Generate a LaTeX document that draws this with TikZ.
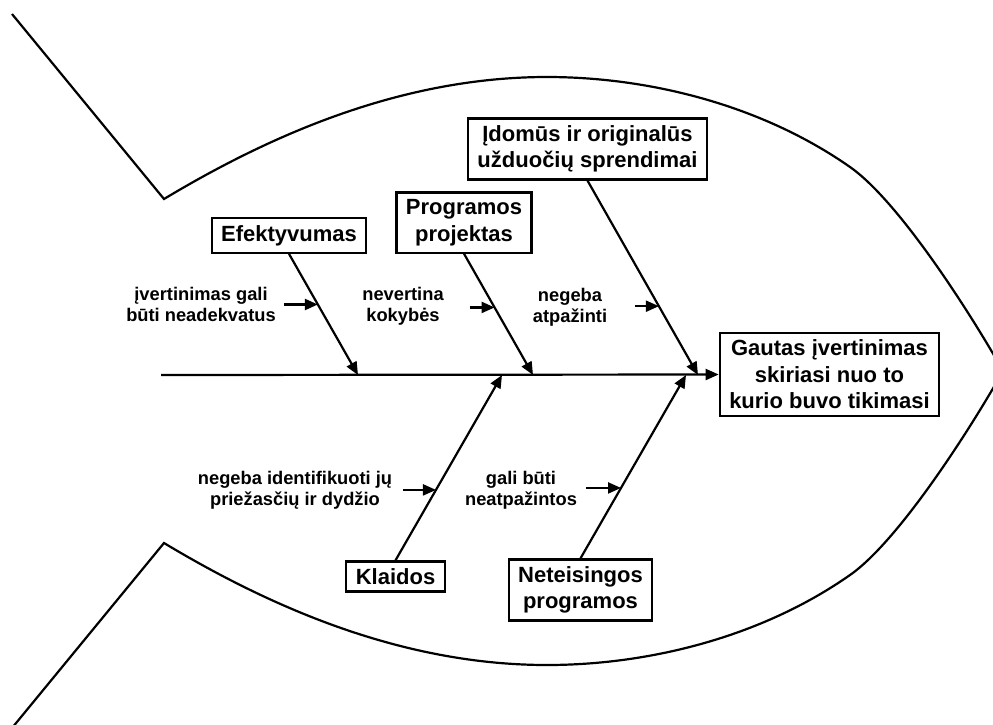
\documentclass[tikz,border=0pt]{standalone}
\usepackage{fontspec}
\setmainfont{Liberation Sans}
\usetikzlibrary{arrows.meta,calc}

\begin{document}
\begin{tikzpicture}[x=1pt,y=-1pt,
  line width=2.2pt,
  tip/.style={-{Triangle[length=13pt,width=11pt]}},
  cause/.style={draw, line width=2.2pt, align=center, inner xsep=9.5pt, inner ysep=7pt,
                font=\fontsize{22}{26.5}\selectfont\bfseries},
  note/.style={align=center, inner sep=0pt, font=\fontsize{18.3}{21}\selectfont\bfseries},
  outline/.style={line width=2.2pt, line join=miter}
]
\useasboundingbox (0,0) rectangle (993,724);

% fish outline: tail fins and body
\begin{scope}
\clip (0,0) rectangle (993,724);
\draw[outline] (12,14) -- (164,199)
  .. controls (264,139) and (397,77) .. (547,77)
  .. controls (647,77) and (760,104) .. (850,167)
  .. controls (900,202) and (973,317.5) .. (1003,371);
\draw[outline] (12,728) -- (164,543)
  .. controls (264,603) and (397,665) .. (547,665)
  .. controls (647,665) and (760,638) .. (850,575)
  .. controls (900,540) and (973,424.5) .. (1003,371);
\end{scope}

% cause boxes and effect box
\node[cause] (efek)  at (289,235.5) {Efektyvumas};
\node[cause] (prog)  at (464,222.5) {Programos\\projektas};
\node[cause] (idom)  at (587.5,149) {Įdomūs ir originalūs\\užduočių sprendimai};
\node[cause] (head)  at (829.5,374.5) {Gautas įvertinimas\\skiriasi nuo to\\kurio buvo tikimasi};
\node[cause] (klaid) at (395.5,576.5) {Klaidos};
\node[cause] (netei) at (580.5,590) {Neteisingos\\programos};

% spine
\coordinate (tail) at (161,375);
\draw[tip] (tail) -- (head.west);

% bones meeting the spine
\coordinate (e1) at (358,375);
\coordinate (p1) at (533,375);
\coordinate (i1) at (698,375);
\coordinate (k1) at (502,375);
\coordinate (n1) at (686,375);
\draw[tip] (efek.south) -- (e1);
\draw[tip] (prog.south) -- (p1);
\draw[tip] (idom.south) -- (i1);
\draw[tip] (klaid.north) -- (k1);
\draw[tip] (netei.north) -- (n1);

% sub-cause arrows
\coordinate (ea) at ($(efek.south)!0.418!(e1)$);
\coordinate (pa) at ($(prog.south)!0.443!(p1)$);
\coordinate (ia) at ($(idom.south)!0.646!(i1)$);
\coordinate (ka) at ($(klaid.north)!0.380!(k1)$);
\coordinate (na) at ($(netei.north)!0.384!(n1)$);
\coordinate (ea0) at ($(ea)+(-34,0)$);
\coordinate (pa0) at ($(pa)+(-25,0)$);
\coordinate (ia0) at ($(ia)+(-24,0)$);
\coordinate (ka0) at ($(ka)+(-33,0)$);
\coordinate (na0) at ($(na)+(-35,0)$);
\draw[tip] (ea0) -- (ea);
\draw[tip] (pa0) -- (pa);
\draw[tip] (ia0) -- (ia);
\draw[tip] (ka0) -- (ka);
\draw[tip] (na0) -- (na);

% sub-cause labels
\node[note] (l1) at (201,304) {įvertinimas gali\\būti neadekvatus};
\node[note] (l2) at (403,306) {nevertina\\kokybės};
\node[note] (l3) at (570,307) {negeba\\atpažinti};
\node[note] (l4) at (295,490) {negeba identifikuoti jų\\priežasčių ir dydžio};
\node[note] (l5) at (521,490) {gali būti\\neatpažintos};
\end{tikzpicture}
\end{document}
